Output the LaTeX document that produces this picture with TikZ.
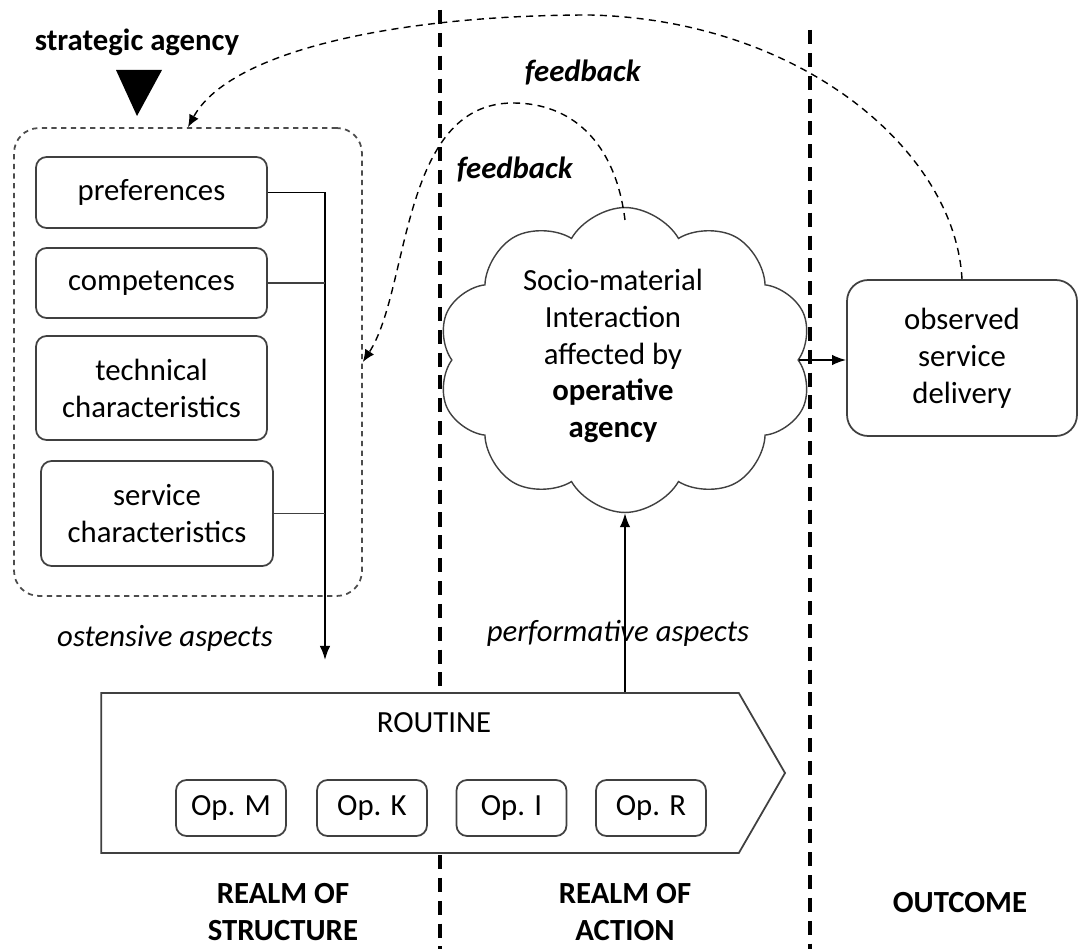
\documentclass[tikz,border=0pt]{standalone}
\usepackage{fontspec}
\setmainfont{Carlito}
\usetikzlibrary{arrows.meta,shapes.symbols}

\begin{document}
\begin{tikzpicture}[x=0.02cm, y=0.02cm]
	\tikzstyle{every node}+=[font=\fontsize{17.5}{21}\selectfont, inner sep=0pt, align=center]
	\tikzstyle{box}=[draw=black!75, line width=1pt, rounded corners=6pt, fill=white]
	\tikzstyle{opbox}=[box, minimum width=2.2cm, minimum height=1.12cm]
	\tikzstyle{realm}=[draw, line width=2pt, dash pattern=on 8pt off 5pt]
	\tikzstyle{fback}=[draw, line width=0.8pt, dash pattern=on 4pt off 3pt, -{Latex[length=7pt,width=6pt]}]
	\tikzstyle{link}=[draw, line width=1pt, -{Latex[length=8pt,width=6pt]}]
	\useasboundingbox (0,0) rectangle (1079,-949);
	% realm borders
	\draw [realm] (440,-10) -- (440,-949);
	\draw [realm] (810,-30) -- (810,-949);
	% strategic agency
	\node (strat) at (137,-42) {\textbf{strategic agency}};
	\fill [black] (116,-70) -- (162,-70) -- (137,-116) -- cycle;
	\node (ostbox) [draw=black!70, line width=1pt, dash pattern=on 3pt off 2.5pt, rounded corners=0.5cm, minimum width=6.96cm, minimum height=9.36cm] at (188,-362) {};
	\node (pref) [box, minimum width=4.62cm, minimum height=1.42cm] at (151.5,-192.5) {preferences};
	\node (comp) [box, minimum width=4.62cm, minimum height=1.4cm] at (151.5,-283) {competences};
	\node (tech) [box, minimum width=4.62cm, minimum height=2.08cm] at (151.5,-388) {technical\\characteristics};
	\node (serv) [box, minimum width=4.64cm, minimum height=2.1cm] at (157,-513.5) {service\\characteristics};
	\coordinate (ostend) at (325,-660);
	\draw [link] (pref.east) -| (ostend);
	\draw [line width=1pt, black!75] (comp.east) -- (comp.east -| ostend);
	\draw [line width=1pt, black!75] (serv.east) -- (serv.east -| ostend);
	\node (ostlabel) at (165,-638) {\textit{ostensive aspects}};
	% action
	\node (cloud) [cloud, cloud puffs=10, cloud puff arc=120, aspect=1.2, draw=black!75, line width=0.8pt, fill=white, minimum width=7.5cm, minimum height=6.1cm] at (625,-360) {};
	\node (cloudtext) at (613,-356) {Socio-material\\Interaction\\affected by\\\textbf{operative}\\\textbf{agency}};
	\node (obs) [box, rounded corners=12pt, minimum width=4.6cm, minimum height=3.12cm] at (962,-358) {observed\\service\\delivery};
	\draw [link] (cloud.east) -- (cloud.east -| obs.west);
	% routine
	\node (routine) [signal, signal to=east, signal from=nowhere, signal pointer angle=120, draw=black!75, line width=1pt, fill=white, minimum width=13.68cm, minimum height=3.2cm] at (420,-773) {};
	\node (routtext) at (434,-723) {ROUTINE};
	\node (opm) [opbox] at (231,-808) {Op. M};
	\node (opk) [opbox] at (372,-808) {Op. K};
	\node (opi) [opbox] at (511.5,-808) {Op. I};
	\node (opr) [opbox] at (651,-808) {Op. R};
	\draw [link] (routine.north -| cloud) -- (cloud.south);
	\node (perflabel) at (618,-633) {\textit{performative aspects}};
	% feedback loops
	\draw [fback] (obs.north) .. controls (955,-150) and (800,-20) .. (590,-15)
		.. controls (400,-15) and (230,-50) .. (ostbox.north);
	\draw [fback] (625,-220) .. controls (615,-140) and (570,-103) .. (513,-103)
		.. controls (400,-103) and (410,-290) .. (ostbox.east);
	\node (fbouter) at (583,-73) {\textbf{\textit{feedback}}};
	\node (fbinner) at (515,-170) {\textbf{\textit{feedback}}};
	% realms
	\node (structure) at (283,-912) {\textbf{REALM OF}\\\textbf{STRUCTURE}};
	\node (action) at (625,-912) {\textbf{REALM OF}\\\textbf{ACTION}};
	\node (outcome) at (960,-903) {\textbf{OUTCOME}};
\end{tikzpicture}
\end{document}
